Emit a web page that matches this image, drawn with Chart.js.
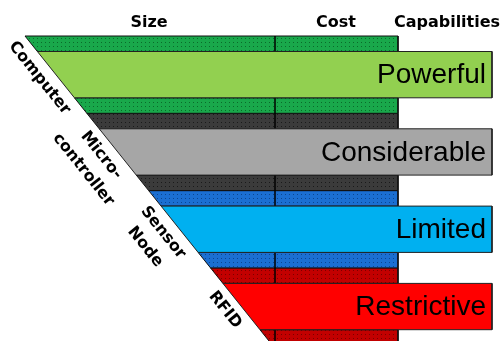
<!DOCTYPE html>
<html>
<head>
<meta charset="utf-8">
<script src="https://cdn.jsdelivr.net/npm/chart.js@4.4.0/dist/chart.umd.min.js"></script>
<style>
body { margin: 0; background: #fff; }
</style>
</head>
<body>
<canvas id="mycanvas" width="503" height="341"></canvas>
<script>
var headers = ['Size', 'Cost', 'Capabilities'];
var tiers = [['Computer'], ['Micro-', 'controller'], ['Sensor', 'Node'], ['RFID']];
var capabilities = ['Powerful', 'Considerable', 'Limited', 'Restrictive'];
var stripColors = ['#19a84b', '#3b3b3b', '#1b6fd2', '#c20000'];
var stripDots = ['#0a6a2a', '#1a1a1a', '#0b4690', '#7a0000'];
var boxColors = ['#92d050', '#a6a6a6', '#00b0f0', '#ff0000'];

// layout, in the units of the x (0..503) and y (0..341) scales
var top0 = 36, tierH = 77.3, stripH = 15.5;
var leftTop = 25, slope = 0.8;
var sizeEnd = 275, costEnd = 398, boxEnd = 492;
var headerX = [149, 336, 447];

var canvas = document.getElementById('mycanvas');
var ctx = canvas.getContext('2d');

function edge(y) { return leftTop + slope * (y - top0); }
function quad(t, b, right) {
	return [{x: edge(t), y: t}, {x: right, y: t}, {x: right, y: b}, {x: edge(b), y: b}, {x: edge(t), y: t}];
}
function dots(base, dot) {
	var c = document.createElement('canvas');
	c.width = 4; c.height = 4;
	var g = c.getContext('2d');
	g.fillStyle = base; g.fillRect(0, 0, 4, 4);
	g.fillStyle = dot; g.fillRect(1, 2, 1, 1);
	return ctx.createPattern(c, 'repeat');
}
function shape(points, fill, border, order) {
	return {
		data: points, showLine: true, fill: 'shape', tension: 0,
		backgroundColor: fill, borderColor: border, borderWidth: 1,
		pointRadius: 0, order: order
	};
}

var datasets = [];
for (var i in tiers) {
	var t = top0 + i * tierH;
	var pat = dots(stripColors[i], stripDots[i]);
	datasets.push(shape(quad(t, t + stripH, costEnd), pat, '#111', 2));
	datasets.push(shape(quad(t + stripH, t + tierH - stripH, boxEnd), boxColors[i], '#222', 0));
	datasets.push(shape(quad(t + tierH - stripH, t + tierH, costEnd), pat, '#111', 2));
}
datasets.push({
	data: [{x: sizeEnd, y: top0}, {x: sizeEnd, y: 341}], showLine: true, fill: false,
	borderColor: '#000', borderWidth: 1.5, pointRadius: 0, order: 1
});

var texts = {
	id: 'texts',
	afterDatasetsDraw: function(chart) {
		var c = chart.ctx, xs = chart.scales.x, ys = chart.scales.y;
		c.save();
		c.fillStyle = '#000';
		c.textAlign = 'center';
		c.textBaseline = 'middle';
		c.font = 'bold 16px "DejaVu Sans"';
		headers.forEach(function(h, k) {
			c.fillText(h, xs.getPixelForValue(headerX[k]), ys.getPixelForValue(23));
		});

		var ang = Math.atan2(ys.getPixelForValue(100) - ys.getPixelForValue(0),
			xs.getPixelForValue(edge(100)) - xs.getPixelForValue(edge(0)));
		tiers.forEach(function(lines, k) {
			var t = top0 + k * tierH;
			var mid = t + tierH / 2;
			// capability label, right aligned in the box
			c.textAlign = 'right';
			c.font = '28px "Liberation Sans"';
			c.fillText(capabilities[k], xs.getPixelForValue(boxEnd - 6), ys.getPixelForValue(mid + 1));
			// tier label along the slanted edge
			var ay = mid - 6;
			var px = xs.getPixelForValue(edge(ay)), py = ys.getPixelForValue(ay);
			c.font = 'bold 16px "DejaVu Sans"';
			c.textAlign = 'center';
			lines.forEach(function(line, j) {
				var off = 15 + j * 23;
				c.save();
				c.translate(px - Math.sin(ang) * off, py + Math.cos(ang) * off);
				c.rotate(ang);
				c.fillText(line, 0, 0);
				c.restore();
			});
		});
		c.restore();
	}
};

new Chart(ctx, {
	type: 'scatter',
	data: { datasets: datasets },
	options: {
		responsive: false,
		animation: false,
		devicePixelRatio: 1,
		events: [],
		layout: { padding: 0 },
		plugins: { legend: { display: false }, tooltip: { enabled: false } },
		scales: {
			x: { type: 'linear', min: 0, max: 503, display: false },
			y: { type: 'linear', min: 0, max: 341, reverse: true, display: false }
		}
	},
	plugins: [texts]
});
</script>
</body>
</html>
